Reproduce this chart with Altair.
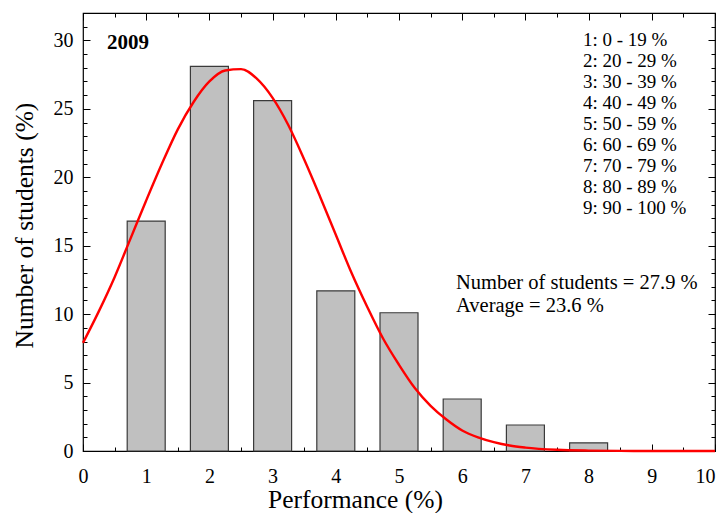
import altair as alt
import pandas as pd

# ---- data ----
bar_x = [1, 2, 3, 4, 5, 6, 7, 8]
bar_y = [16.8, 28.1, 25.6, 11.7, 10.1, 3.8, 1.9, 0.6]

curve_x = [0, 0.25, 0.5, 0.75, 1.0, 1.25, 1.5, 1.75, 2.0, 2.25, 2.5, 2.75, 3.0,
           3.25, 3.5, 3.75, 4.0, 4.25, 4.5, 4.75, 5.0, 5.25, 5.5, 5.75, 6.0,
           6.25, 6.5, 6.75, 7.0, 7.5, 8.0, 8.5, 9.0, 10.0]
curve_y = [7.9, 10.2, 12.7, 15.5, 18.3, 21.0, 23.5, 25.5, 27.0, 27.8, 27.9, 27.2, 25.8,
           23.8, 21.3, 18.6, 15.8, 13.0, 10.5, 8.2, 6.3, 4.6, 3.3, 2.3, 1.5,
           1.0, 0.65, 0.4, 0.25, 0.09, 0.03, 0.01, 0.0, 0.0]

x_major = [0, 1, 2, 3, 4, 5, 6, 7, 8, 9, 10]
x_minor = [0.5, 1.5, 2.5, 3.5, 4.5, 5.5, 6.5, 7.5, 8.5, 9.5]
y_major = [0, 5, 10, 15, 20, 25, 30]
y_minor = list(range(0, 33))

legend_lines = ["1: 0 - 19 %", "2: 20 - 29 %", "3: 30 - 39 %", "4: 40 - 49 %",
                "5: 50 - 59 %", "6: 60 - 69 %", "7: 70 - 79 %", "8: 80 - 89 %",
                "9: 90 - 100 %"]
stats_lines = ["Number of students = 27.9 %", "Average = 23.6 %"]
year_label = "2009"

# ---- layout ----
W, H = 632, 438
FONT = "Liberation Serif"

bars = pd.DataFrame({"x": bar_x, "y": bar_y})
curve = pd.DataFrame({"x": curve_x, "y": curve_y})
one_row = pd.DataFrame({"k": [0]})

xs = alt.Scale(domain=[0, 10], nice=False, zero=False, padding=0)
ys = alt.Scale(domain=[0, 32], nice=False, zero=True, padding=0)


def tick_axis(orient, offset, values, size):
    return alt.Axis(orient=orient, offset=offset, values=values, tickSize=size,
                    labels=False, domain=False, grid=False, title=None,
                    tickColor="black", tickWidth=1)


bar_layer = alt.Chart(bars).mark_bar(size=38, color="#c0c0c0", stroke="#3a3a3a",
                                     strokeWidth=1.2).encode(
    x=alt.X("x:Q", scale=xs, axis=alt.Axis(
        orient="bottom", values=x_major, ticks=False, tickSize=0, domain=False,
        grid=False, labelPadding=31, labelBaseline="alphabetic",
        labelAlign=alt.ExprRef(expr="datum.value >= 10 ? 'right' : 'center'"),
        labelFontSize=20, labelFont=FONT, labelColor="black", labelFlush=False,
        labelBound=False,
        title="Performance (%)", titleFont=FONT, titleFontSize=25.5,
        titleFontWeight="normal", titleColor="black", titleX=272, titleY=56,
        titleAlign="center", titleBaseline="alphabetic")),
    y=alt.Y("y:Q", scale=ys, axis=alt.Axis(
        orient="left", values=y_major, ticks=False, tickSize=0, domain=False,
        grid=False, labelPadding=10, labelFontSize=20, labelFont=FONT,
        labelColor="black", labelFlush=False,
        title="Number of students (%)", titleFont=FONT, titleFontSize=25.5,
        titleFontWeight="normal", titleColor="black", titleX=-51, titleY=212,
        titleAngle=-90, titleAlign="center", titleBaseline="alphabetic")),
)

curve_layer = alt.Chart(curve).mark_line(color="#ff0000", strokeWidth=2.4,
                                         interpolate="monotone").encode(
    x=alt.X("x:Q", scale=xs, axis=tick_axis("top", -H, x_major, 7)),
    y=alt.Y("y:Q", scale=ys, axis=tick_axis("right", -W, y_major, 7)),
)


def ghost(xaxis, yaxis):
    return alt.Chart(curve).mark_line(opacity=0).encode(
        x=alt.X("x:Q", scale=xs, axis=xaxis),
        y=alt.Y("y:Q", scale=ys, axis=yaxis),
    )


g1 = ghost(tick_axis("top", -H, x_minor, 4), tick_axis("right", -W, y_minor, 4))
g2 = ghost(tick_axis("bottom", -H, x_major, 7), tick_axis("left", -W, y_major, 7))
g3 = ghost(tick_axis("bottom", -H, x_minor, 4), tick_axis("left", -W, y_minor, 4))

legend_text = alt.Chart(one_row).mark_text(
    text=legend_lines, align="left", baseline="alphabetic", font=FONT,
    fontSize=19, lineHeight=21, color="black").encode(
    x=alt.value(500), y=alt.value(33))

stats_text = alt.Chart(one_row).mark_text(
    text=stats_lines, align="left", baseline="alphabetic", font=FONT,
    fontSize=20.5, lineHeight=23, color="black").encode(
    x=alt.value(373), y=alt.value(276))

year_text = alt.Chart(one_row).mark_text(
    text=year_label, align="left", baseline="alphabetic", font=FONT,
    fontSize=21, fontWeight="bold", color="black").encode(
    x=alt.value(24), y=alt.value(36))

chart = alt.layer(
    bar_layer, curve_layer, g1, g2, g3, legend_text, stats_text, year_text
).resolve_scale(x="independent", y="independent").properties(
    width=W, height=H,
    autosize=alt.AutoSizeParams(type="none"),
    padding={"left": 75, "top": 5, "right": 4, "bottom": 62},
    background="white",
).configure_view(stroke="black", strokeWidth=1.2)

chart.save("out.html", embed_options={"renderer": "svg", "actions": False})
